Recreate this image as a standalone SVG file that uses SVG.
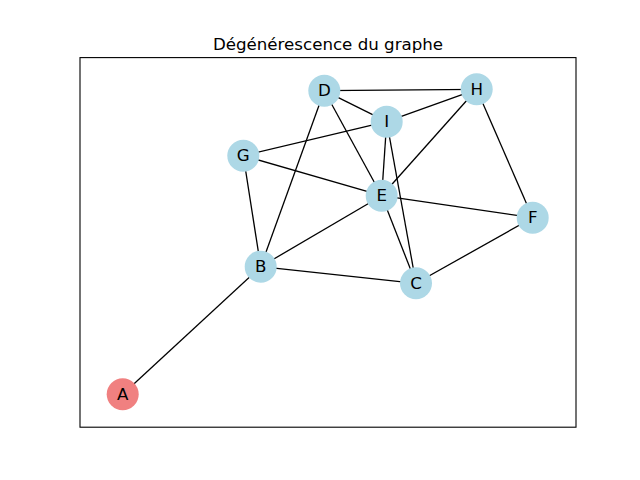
<svg xmlns="http://www.w3.org/2000/svg" width="640" height="480" viewBox="0 0 640 480">
<style>
.e{stroke:#000;stroke-width:1.3;fill:none}
.n{fill:#ADD8E6}
.r{fill:#F08080}
.t{font-family:"DejaVu Sans",sans-serif;font-size:16.67px;text-anchor:middle;dominant-baseline:central;fill:#000}
</style>
<rect width="640" height="480" fill="#fff"/>
<rect x="80" y="57.6" width="496" height="369.6" fill="none" stroke="#000" stroke-width="1.1"/>
<text x="328" y="49.5" font-family="DejaVu Sans, sans-serif" font-size="16.67" text-anchor="middle">Dégénérescence du graphe</text>
<g id="edges">
<line class="e" x1="122.7" y1="394.3" x2="260.7" y2="266.7"/>
<line class="e" x1="260.7" y1="266.7" x2="324.3" y2="90.7"/>
<line class="e" x1="260.7" y1="266.7" x2="243.3" y2="155.7"/>
<line class="e" x1="260.7" y1="266.7" x2="381.7" y2="195.7"/>
<line class="e" x1="260.7" y1="266.7" x2="416" y2="283.3"/>
<line class="e" x1="416" y1="283.3" x2="381.7" y2="195.7"/>
<line class="e" x1="416" y1="283.3" x2="386.7" y2="121.7"/>
<line class="e" x1="416" y1="283.3" x2="532.7" y2="217.7"/>
<line class="e" x1="324.3" y1="90.7" x2="476.7" y2="89.3"/>
<line class="e" x1="324.3" y1="90.7" x2="386.7" y2="121.7"/>
<line class="e" x1="324.3" y1="90.7" x2="381.7" y2="195.7"/>
<line class="e" x1="381.7" y1="195.7" x2="243.3" y2="155.7"/>
<line class="e" x1="381.7" y1="195.7" x2="386.7" y2="121.7"/>
<line class="e" x1="381.7" y1="195.7" x2="476.7" y2="89.3"/>
<line class="e" x1="381.7" y1="195.7" x2="532.7" y2="217.7"/>
<line class="e" x1="532.7" y1="217.7" x2="476.7" y2="89.3"/>
<line class="e" x1="243.3" y1="155.7" x2="386.7" y2="121.7"/>
<line class="e" x1="476.7" y1="89.3" x2="386.7" y2="121.7"/>
</g>
<g id="A"><circle class="r" cx="122.7" cy="394.3" r="16"/><text class="t" x="122.7" y="394.3">A</text></g>
<g id="B"><circle class="n" cx="260.7" cy="266.7" r="16"/><text class="t" x="260.7" y="266.7">B</text></g>
<g id="C"><circle class="n" cx="416" cy="283.3" r="16"/><text class="t" x="416" y="283.3">C</text></g>
<g id="D"><circle class="n" cx="324.3" cy="90.7" r="16"/><text class="t" x="324.3" y="90.7">D</text></g>
<g id="E"><circle class="n" cx="381.7" cy="195.7" r="16"/><text class="t" x="381.7" y="195.7">E</text></g>
<g id="F"><circle class="n" cx="532.7" cy="217.7" r="16"/><text class="t" x="532.7" y="217.7">F</text></g>
<g id="G"><circle class="n" cx="243.3" cy="155.7" r="16"/><text class="t" x="243.3" y="155.7">G</text></g>
<g id="H"><circle class="n" cx="476.7" cy="89.3" r="16"/><text class="t" x="476.7" y="89.3">H</text></g>
<g id="I"><circle class="n" cx="386.7" cy="121.7" r="16"/><text class="t" x="386.7" y="121.7">I</text></g>
</svg>
